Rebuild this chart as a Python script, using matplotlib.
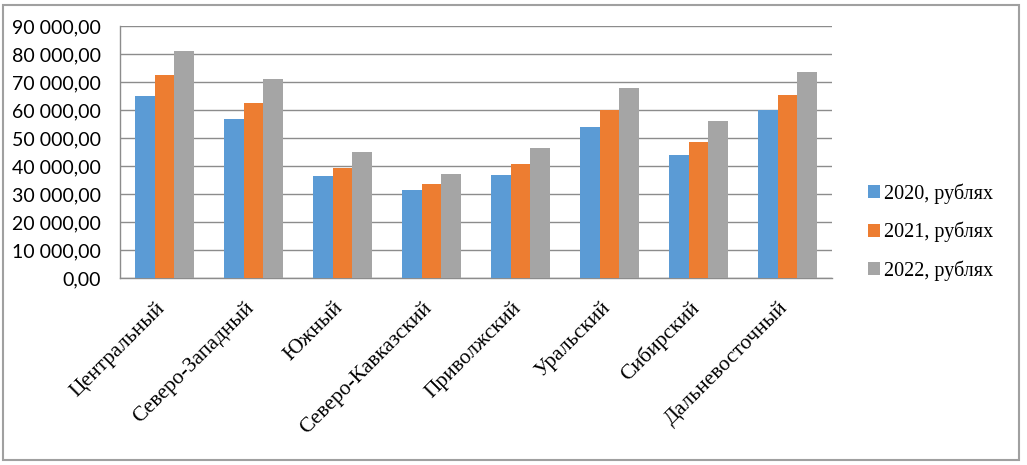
import matplotlib
matplotlib.use("Agg")
import matplotlib.pyplot as plt
import numpy as np
from matplotlib.patches import Rectangle
from matplotlib.ticker import FuncFormatter, MultipleLocator
from matplotlib.transforms import ScaledTranslation

categories = ["Центральный", "Северо-Западный", "Южный", "Северо-Кавказский",
              "Приволжский", "Уральский", "Сибирский", "Дальневосточный"]
series_names = ["2020, рублях", "2021, рублях", "2022, рублях"]
v2020 = [65000, 56700, 36300, 31400, 36800, 53900, 43800, 59900]
v2021 = [72500, 62600, 39400, 33700, 40700, 59900, 48600, 65400]
v2022 = [81200, 71100, 45100, 37100, 46400, 68000, 56100, 73700]
colors = ["#5B9BD5", "#ED7D31", "#A5A5A5"]

plt.rcParams['font.family'] = ['Liberation Serif', 'DejaVu Serif']

W, H = 1027, 465
fig = plt.figure(figsize=(W / 100, H / 100), dpi=100)
ax = fig.add_axes([120 / W, 1 - 278 / H, (832 - 120) / W, (278 - 26) / H])

x = np.arange(len(categories))
w = 1 / 4.5
for i, (vals, name, c) in enumerate(zip([v2020, v2021, v2022], series_names, colors)):
    ax.bar(x + (i - 1) * w, vals, width=w, color=c, label=name, zorder=3)

ax.set_xlim(-0.5, len(categories) - 0.5)
ax.set_ylim(0, 90000)
ax.yaxis.set_major_locator(MultipleLocator(10000))


def fmt(v, pos):
    s = f"{v:,.2f}".replace(",", " ").replace(".", ",")
    return s


ax.yaxis.set_major_formatter(FuncFormatter(fmt))
ax.grid(axis='y', color='#8c8c8c', linewidth=1, zorder=0)
for s in ['top', 'right']:
    ax.spines[s].set_visible(False)
for s in ['left', 'bottom']:
    ax.spines[s].set_color('#8c8c8c')
    ax.spines[s].set_linewidth(1)

ax.tick_params(axis='y', length=0, pad=14)
for lab in ax.get_yticklabels():
    lab.set_fontfamily(['Lato', 'DejaVu Sans'])
    lab.set_fontsize(14)
ax.tick_params(axis='x', length=0, pad=6)
ax.set_xticks(x)
ax.set_xticklabels(categories, rotation=45, ha='right', va='top',
                   rotation_mode='anchor', fontsize=15.5)
off = ScaledTranslation(-9 / 100, -12 / 100, fig.dpi_scale_trans)
for lab in ax.get_xticklabels():
    lab.set_transform(lab.get_transform() + off)

leg = ax.legend(loc='center left', bbox_to_anchor=(858 / W, 1 - 232 / H),
                bbox_transform=fig.transFigure, frameon=False, fontsize=14.5,
                handlelength=0.6, handleheight=0.6, handletextpad=0.2,
                labelspacing=0.9, borderpad=0)

fig.patches.append(Rectangle((3 / W, 5 / H), (1019 - 3) / W, (460 - 5) / H,
                             transform=fig.transFigure, fill=False,
                             edgecolor='#a0a0a0', linewidth=1.5))

fig.savefig("out.png", dpi=100)
